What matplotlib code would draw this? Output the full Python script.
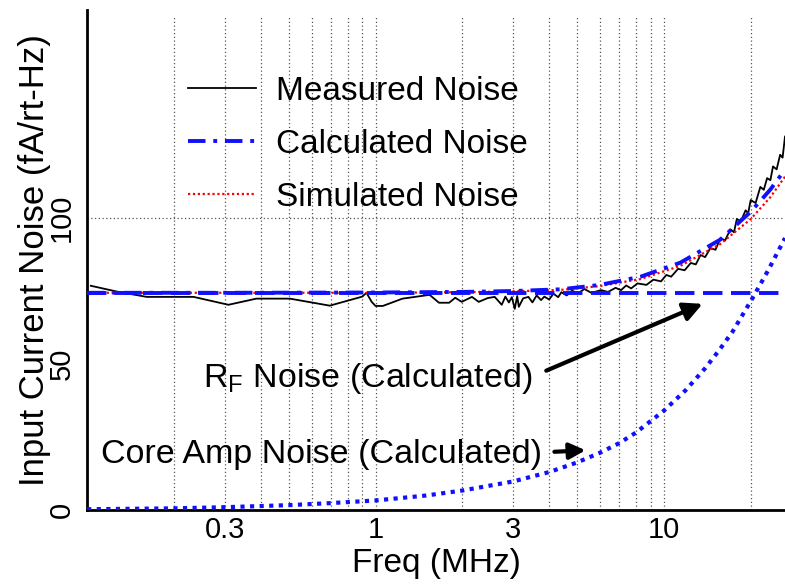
import matplotlib
matplotlib.use('Agg')
import matplotlib.pyplot as plt

plt.rcParams['font.family'] = ['Liberation Sans', 'DejaVu Sans']
plt.rcParams['mathtext.default'] = 'regular'

# Measured input current noise (fA/rt-Hz) vs frequency (MHz)
meas_freq = [0.103, 0.127, 0.161, 0.234, 0.309, 0.386, 0.505, 0.694, 0.90, 0.93,
             0.97, 1.0, 1.06, 1.24, 1.54, 1.66, 1.80, 1.89, 1.99, 2.16,
             2.28, 2.45, 2.59, 2.74, 2.82, 2.90, 2.97, 3.04, 3.10, 3.14,
             3.25, 3.39, 3.50, 3.62, 3.75, 3.85, 4.0, 4.14, 4.3, 4.41,
             4.6, 4.8, 5.05, 5.3, 5.6, 6.06, 6.4, 6.8, 7.1, 7.4,
             7.7, 8.1, 8.7, 9.2, 9.77, 10.2, 10.6, 11.2, 11.8, 12.4,
             12.9, 13.4, 13.9, 14.5, 15.1, 15.7, 16.3, 17.0, 17.5, 17.9,
             18.5, 19.2, 19.6, 20.0, 20.8, 21.6, 22.2, 22.8, 23.4, 23.9,
             24.6, 25.3, 25.8, 26.3]
meas_noise = [76.7, 74.7, 72.9, 72.9, 70.2, 72.3, 72.3, 69.9, 73.0, 74.3,
              71.2, 69.8, 69.8, 72.3, 73.6, 70.9, 70.9, 72.6, 71.2, 72.9,
              71.2, 72.5, 72.9, 70.2, 73.0, 71.0, 72.8, 68.8, 73.2, 69.5,
              72.4, 72.9, 71.0, 73.4, 71.8, 73.0, 72.0, 74.0, 72.8, 74.5,
              73.4, 75.0, 74.2, 75.6, 74.3, 75.2, 74.6, 76.0, 75.2, 76.8,
              75.8, 77.5, 77.0, 78.8, 78.2, 80.4, 79.8, 82.5, 82.0, 84.5,
              84.0, 87.2, 86.5, 89.6, 89.0, 93.0, 92.2, 96.0, 95.0, 99.5,
              98.8, 102.5, 101.5, 106.0, 105.0, 110.5, 109.5, 113.5, 112.8, 117.5,
              116.5, 121.5, 120.5, 127.7]

# Calculated / simulated totals
calc_freq = [0.1, 0.3, 1, 2, 3, 4.4, 6, 8.3, 11.4, 15.7, 20, 23.4, 26.3]
calc_noise = [74.3, 74.3, 74.4, 74.6, 74.9, 75.5, 77.0, 79.8, 84.6, 92.5, 102.0, 109.6, 116.4]
sim_noise = [74.3, 74.3, 74.3, 74.5, 74.8, 75.3, 76.6, 79.0, 83.5, 91.0, 99.5, 107.0, 114.0]

# Components
rf_freq = [0.1, 26.3]
rf_noise = [74.3, 74.3]
core_freq = [0.1, 0.2, 0.3, 0.5, 0.7, 1.0, 1.5, 2.0, 3.0, 4.0, 5.0, 6.0, 7.0,
             8.0, 10, 11.9, 13.9, 15.5, 17.3, 20.3, 23.0, 26.3]
core_noise = [0.3, 0.6, 1.0, 1.7, 2.4, 3.3, 5.0, 6.7, 9.8, 13.0, 16.3, 19.6, 22.9,
              26.5, 34.0, 41.0, 48.5, 54.5, 61.0, 72.5, 82.0, 93.0]

grid_freqs = [0.2, 0.3, 0.4, 0.5, 0.6, 0.7, 0.8, 0.9, 1, 2, 3, 4, 5, 6, 7, 8, 9, 10, 20]
xtick_vals = [0.3, 1, 3, 10]
xtick_labels = ['0.3', '1', '3', '10']
ytick_vals = [0, 50, 100]

fig = plt.figure(figsize=(7.85, 5.85), dpi=100)
ax = fig.add_axes([0.111, 0.128, 0.889, 0.855])
ax.set_xscale('log')
ax.set_xlim(0.1, 26.3)
ax.set_ylim(0, 171)

for g in grid_freqs:
    ax.axvline(g, ymax=0.99, color='#555555', lw=0.9, ls=(0, (1, 2)), zorder=0)
ax.axhline(100, color='#555555', lw=0.9, ls=(0, (1, 2)), zorder=0)

ax.plot(meas_freq, meas_noise, color='black', lw=1.3, label='Measured Noise', zorder=3)
ax.plot(calc_freq, sim_noise, color='red', lw=1.6, ls=(0, (1, 1.2)), label='Simulated Noise', zorder=4)
ax.plot(calc_freq, calc_noise, color='#1010ff', lw=2.8, ls=(0, (4.5, 2, 1, 2)), label='Calculated Noise', zorder=4)
ax.plot(rf_freq, rf_noise, color='#1010ff', lw=2.8, ls=(0, (5, 2.2)), zorder=4)
ax.plot(core_freq, core_noise, color='#1010ff', lw=3, ls=(0, (1, 1.3)), zorder=4)

handles, labels = ax.get_legend_handles_labels()
order = [0, 2, 1]
ax.legend([handles[i] for i in order], [labels[i] for i in order],
          loc='upper left', bbox_to_anchor=(0.1447, 0.868), frameon=False,
          fontsize=24, borderpad=0, borderaxespad=0, handlelength=2.05,
          handletextpad=0.6, labelspacing=0.66)

ax.text(0.253, 42.1, 'R$_F$ Noise (Calculated)', fontsize=24.5, va='baseline', ha='left')
ax.text(0.1117, 16.1, 'Core Amp Noise (Calculated)', fontsize=24.5, va='baseline', ha='left')
ax.annotate('', xy=(13.9, 70.9), xytext=(3.83, 47.3),
            arrowprops=dict(arrowstyle='-|>', lw=3, color='black', mutation_scale=28))
ax.annotate('', xy=(5.47, 20.5), xytext=(4.08, 19.9),
            arrowprops=dict(arrowstyle='-|>', lw=3, color='black', mutation_scale=24))

ax.set_xticks(xtick_vals)
ax.set_xticklabels(xtick_labels)
ax.xaxis.set_minor_locator(matplotlib.ticker.NullLocator())
ax.set_yticks(ytick_vals)
ax.set_yticklabels([str(v) for v in ytick_vals], rotation=90, va='center')
ax.tick_params(length=0, labelsize=21)
ax.tick_params(axis='x', pad=4)
ax.tick_params(axis='y', pad=8)

ax.spines['top'].set_visible(False)
ax.spines['right'].set_visible(False)
ax.spines['left'].set_linewidth(2)
ax.spines['bottom'].set_linewidth(2)

ax.set_xlabel('Freq (MHz)', fontsize=24, labelpad=3)
ax.set_ylabel('Input Current Noise (fA/rt-Hz)', fontsize=25, labelpad=-2)

fig.savefig('out.png', dpi=100)
